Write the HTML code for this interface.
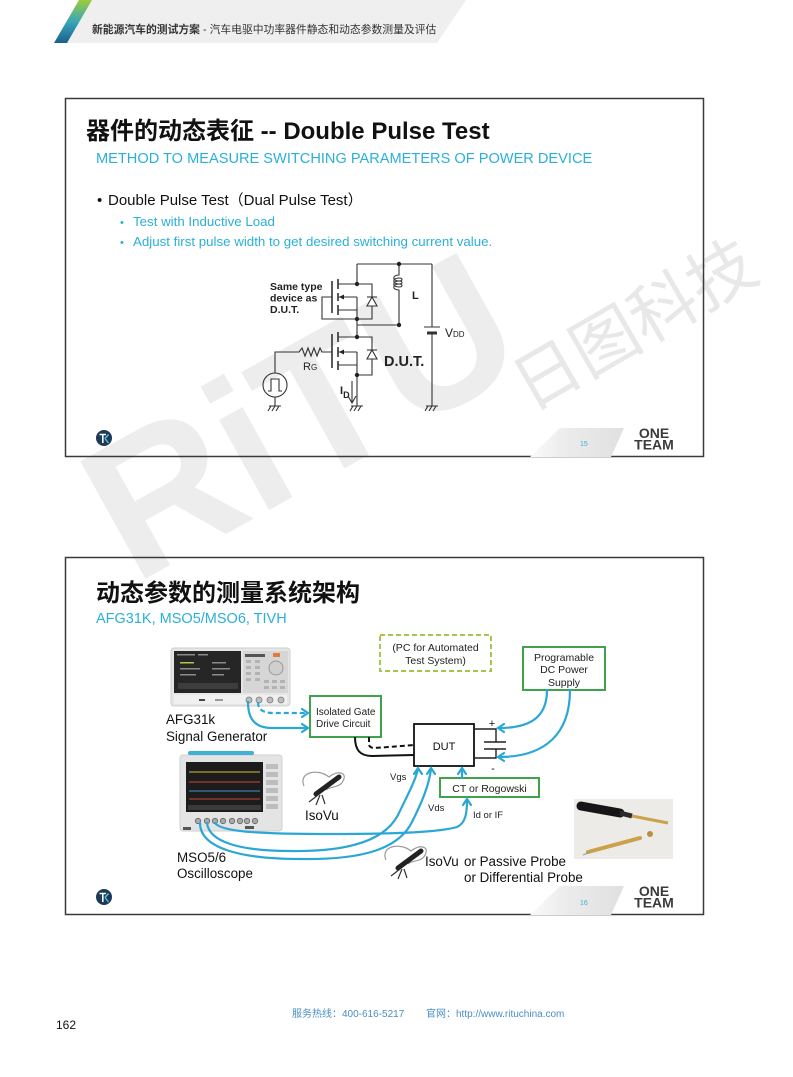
<!DOCTYPE html>
<html><head><meta charset="utf-8">
<style>
html,body{margin:0;padding:0;background:#fff;}
svg{display:block;}
text{font-family:"Liberation Sans","Noto Sans CJK SC",sans-serif;}
</style></head><body>
<svg width="793" height="1077" viewBox="0 0 793 1077" xmlns="http://www.w3.org/2000/svg">
<defs>
<linearGradient id="stripe" x1="0" y1="0" x2="0" y2="1">
<stop offset="0" stop-color="#9ccb3b"/><stop offset="0.5" stop-color="#3aa7b8"/><stop offset="1" stop-color="#1b5f8f"/>
</linearGradient>
<linearGradient id="foot" x1="0" y1="0" x2="1" y2="0">
<stop offset="0" stop-color="#fafafa"/><stop offset="0.4" stop-color="#ebebeb"/><stop offset="1" stop-color="#e0e0e0"/>
</linearGradient>
</defs>

<!-- header -->
<polygon points="88,0 466,0 437,43 62,43" fill="#efefef"/>
<polygon points="79,0 92,0 67,43 54,43" fill="url(#stripe)"/>
<text x="92" y="33" font-size="10.8" fill="#333"><tspan font-weight="bold">新能源汽车的测试方案</tspan> - 汽车电驱中功率器件静态和动态参数测量及评估</text>

<!-- slide backgrounds -->
<rect x="65.5" y="98.5" width="638" height="358" fill="#fff"/>
<rect x="65.5" y="557.5" width="638" height="357" fill="#fff"/>

<!-- watermark -->
<text transform="translate(134,585) rotate(-29)" font-size="195" font-weight="bold" fill="#ededed">RiTU</text>
<text transform="translate(530,412) rotate(-30)" font-size="67" fill="#e8e8e8">日图科技</text>

<!-- slide borders -->
<rect x="65.5" y="98.5" width="638" height="358" fill="none" stroke="#3a3a3a" stroke-width="1.5"/>
<rect x="65.5" y="557.5" width="638" height="357" fill="none" stroke="#3a3a3a" stroke-width="1.5"/>

<!-- ===== SLIDE 1 ===== -->
<text x="86" y="139" font-size="24" font-weight="bold" fill="#111">器件的动态表征 -- Double Pulse Test</text>
<text x="96" y="163" font-size="14.6" fill="#2ab0d8">METHOD TO MEASURE SWITCHING PARAMETERS OF POWER DEVICE</text>
<text x="97" y="205" font-size="15" fill="#111">•</text>
<text x="108" y="205" font-size="15" fill="#111">Double Pulse Test（Dual Pulse Test）</text>
<text x="120" y="226" font-size="11" fill="#2ab0d8">•</text>
<text x="133" y="226" font-size="13.3" fill="#2ab0d8">Test with Inductive Load</text>
<text x="120" y="246" font-size="11" fill="#2ab0d8">•</text>
<text x="133" y="246" font-size="13.3" fill="#2ab0d8">Adjust first pulse width to get desired switching current value.</text>

<!-- circuit -->
<g stroke="#333" stroke-width="1.1" fill="none">
  <path d="M357 264 H432 M357 264 V284"/>
  <path d="M338 284 H357 M357 297 V319 M338 297 H357 M338 310 H357"/>
  <path d="M338 279 V289 M338 293 V301 M338 305 V315" stroke-width="1.6"/>
  <path d="M332 281 V313" stroke-width="1.6"/>
  <path d="M332 297 H322 V319 H357"/>
  <path d="M357 284 H372 V319 H357"/>
  <polygon points="372,297 367,306 377,306" fill="#fff"/>
  <path d="M367 297 H377"/>
  <path d="M399 264 V275 c-7 0 -7 6 0 6 c4 0 4 -3 0 -3 c-7 0 -7 6 0 6 c4 0 4 -3 0 -3 c-7 0 -7 6 0 6 c4 0 4 -3 0 -3 c-7 0 -7 6 0 6 V325 H357"/>
  <path d="M357 319 V337"/>
  <path d="M338 337 H357 M338 352 H357 M338 365 H357 M357 352 V406"/>
  <path d="M338 332 V342 M338 347 V357 M338 361 V370" stroke-width="1.6"/>
  <path d="M332 334 V368" stroke-width="1.6"/>
  <path d="M357 337 H372 V375 H357"/>
  <polygon points="372,350 367,359 377,359" fill="#fff"/>
  <path d="M367 350 H377"/>
  <path d="M332 352 H322 l-2 -4 l-3 8 l-3 -8 l-3 8 l-3 -8 l-3 8 l-3 -8 l-3 4 H275 V373"/>
  <circle cx="275" cy="385" r="12"/>
  <path d="M268 391 H271 V379 H279 V391 H282"/>
  <path d="M275 397 V406"/>
  <path d="M432 264 V327 M424 327 H440"/>
  <path d="M427 333 H437" stroke-width="3"/>
  <path d="M432 333 V406"/>
  <path d="M269 406 H281 M271 406 L268 411 M275 406 L272 411 M279 406 L276 411"/>
  <path d="M351 406 H363 M353 406 L350 411 M357 406 L354 411 M361 406 L358 411"/>
  <path d="M426 406 H438 M428 406 L425 411 M432 406 L429 411 M436 406 L433 411"/>
  <path d="M352 381 V402 M348 396 L352 403 L356 396"/>
</g>
<g fill="#222">
  <circle cx="399" cy="264" r="2.2"/><circle cx="357" cy="284" r="2.2"/>
  <circle cx="357" cy="319" r="2.2"/><circle cx="399" cy="325" r="2.2"/>
  <circle cx="357" cy="337" r="2.2"/><circle cx="357" cy="375" r="2.2"/>
  <polygon points="339,297 344,294.5 344,299.5"/>
  <polygon points="339,352 344,349.5 344,354.5"/>
</g>
<g fill="#222" font-weight="bold">
  <text x="270" y="290" font-size="10.5">Same type</text>
  <text x="270" y="301.5" font-size="10.5">device as</text>
  <text x="270" y="313" font-size="10.5">D.U.T.</text>
  <text x="412" y="299" font-size="11">L</text>
  <text x="384" y="366" font-size="14.5">D.U.T.</text>
  <text x="340" y="394" font-size="11">I<tspan font-size="9" dy="4">D</tspan></text>
</g>
<text x="445" y="337" font-size="12" fill="#222">V<tspan font-size="8">DD</tspan></text>
<text x="303" y="370" font-size="11" fill="#222">R<tspan font-size="8">G</tspan></text>

<!-- slide 1 footer -->
<polygon points="530,457 560,428 624,428 611,457" fill="url(#foot)"/>
<text x="580" y="446" font-size="7" fill="#3ab0d8">15</text>
<text x="654" y="438" font-size="14" font-weight="bold" fill="#3b3b3b" text-anchor="middle">ONE</text>
<text x="654" y="449.5" font-size="14" font-weight="bold" fill="#3b3b3b" text-anchor="middle">TEAM</text>
<circle cx="104" cy="438" r="8" fill="#1e3a55"/>
<path d="M99.5 434.5 H106 M102.8 434.5 V443" stroke="#fff" stroke-width="1.6" fill="none"/>
<path d="M105 438.5 L108.5 434.5 M105 438.5 L108.5 443" stroke="#4fc3e8" stroke-width="1.4" fill="none"/>

<!-- ===== SLIDE 2 ===== -->
<text x="96" y="601" font-size="24" font-weight="bold" fill="#111">动态参数的测量系统架构</text>
<text x="96" y="623" font-size="14.5" fill="#2ab0d8">AFG31K, MSO5/MSO6, TIVH</text>

<!-- AFG device -->
<rect x="171" y="648" width="119" height="58" rx="3" fill="#e6e6e6" stroke="#cfcfcf"/>
<rect x="174" y="651" width="67" height="42" fill="#262626"/>
<g fill="#8a8a8a">
  <rect x="177" y="654" width="18" height="1.5"/><rect x="198" y="654" width="10" height="1.5"/>
  <rect x="180" y="662" width="14" height="1.5" fill="#a9c94a"/><rect x="212" y="662" width="14" height="1.5"/>
  <rect x="180" y="668" width="20" height="1.5"/><rect x="212" y="668" width="18" height="1.5"/>
  <rect x="180" y="674" width="16" height="1.5"/><rect x="212" y="674" width="12" height="1.5"/>
  <rect x="178" y="683" width="60" height="6" fill="#3d3d3d"/>
</g>
<rect x="243" y="651" width="45" height="42" fill="#d6d6d6"/>
<g fill="#b3b3b3">
  <rect x="245" y="654" width="20" height="3" fill="#555"/>
  <rect x="246" y="660" width="5" height="3"/><rect x="246" y="666" width="5" height="3"/><rect x="246" y="672" width="5" height="3"/><rect x="246" y="678" width="5" height="3"/>
  <rect x="255" y="660" width="5" height="3"/><rect x="255" y="666" width="5" height="3"/><rect x="255" y="672" width="5" height="3"/><rect x="255" y="678" width="5" height="3"/>
  <rect x="264" y="680" width="5" height="3"/><rect x="272" y="680" width="5" height="3"/><rect x="280" y="680" width="5" height="3"/>
  <rect x="264" y="686" width="5" height="3"/><rect x="272" y="686" width="5" height="3"/><rect x="280" y="686" width="5" height="3"/>
</g>
<rect x="273" y="653" width="7" height="4" fill="#e07b39"/>
<circle cx="276" cy="668" r="7" fill="#cfcfcf" stroke="#999"/>
<rect x="174" y="695" width="113" height="9" fill="#f0f0f0"/>
<rect x="199" y="699" width="6" height="2" fill="#444"/>
<rect x="215" y="699" width="8" height="2" fill="#999"/>
<g fill="#bdbdbd" stroke="#7a7a7a" stroke-width="0.8">
  <circle cx="249" cy="700" r="3"/><circle cx="259" cy="700" r="3"/><circle cx="270" cy="700" r="3"/><circle cx="281" cy="700" r="3"/>
</g>
<text x="166" y="724" font-size="13.4" fill="#111">AFG31k</text>
<text x="166" y="741" font-size="13.4" fill="#111">Signal Generator</text>

<!-- Scope -->
<rect x="180" y="755" width="102" height="76" rx="3" fill="#e4e4e4" stroke="#cfcfcf"/>
<rect x="188" y="751" width="66" height="4" rx="2" fill="#3fb0d6"/>
<rect x="186" y="762" width="77" height="50" fill="#1c1c1c"/>
<g fill="none" stroke-width="1">
  <path d="M189 772 H260" stroke="#d8b440"/>
  <path d="M189 782 H260" stroke="#c8483a"/>
  <path d="M189 791 H260" stroke="#4a8fd0"/>
  <path d="M189 799 H260" stroke="#c8483a"/>
</g>
<rect x="188" y="805" width="73" height="5" fill="#3a3a3a"/>
<g fill="#bdbdbd">
  <rect x="266" y="764" width="12" height="5"/><rect x="266" y="772" width="12" height="5"/>
  <rect x="266" y="780" width="12" height="5"/><rect x="266" y="788" width="12" height="5"/>
  <rect x="266" y="796" width="12" height="5"/><rect x="266" y="804" width="12" height="5"/>
</g>
<g fill="#a9a9a9" stroke="#666" stroke-width="0.8">
  <circle cx="198" cy="821" r="2.7"/><circle cx="207" cy="821" r="2.7"/><circle cx="215" cy="821" r="2.7"/><circle cx="223" cy="821" r="2.7"/>
  <circle cx="232" cy="821" r="2.7"/><circle cx="240" cy="821" r="2.7"/><circle cx="247" cy="821" r="2.7"/><circle cx="255" cy="821" r="2.7"/>
</g>
<rect x="183" y="827" width="8" height="3" fill="#555"/>
<rect x="245" y="826" width="9" height="3" fill="#555"/>
<text x="177" y="862" font-size="13.4" fill="#111">MSO5/6</text>
<text x="177" y="878" font-size="13.4" fill="#111">Oscilloscope</text>

<!-- boxes -->
<rect x="380" y="635" width="111" height="36" fill="none" stroke="#a5c64a" stroke-width="2" stroke-dasharray="5,3"/>
<text x="435.5" y="651" font-size="10.5" fill="#222" text-anchor="middle">(PC for Automated</text>
<text x="435.5" y="664" font-size="10.5" fill="#222" text-anchor="middle">Test System)</text>

<rect x="523" y="647" width="82" height="43" fill="#fff" stroke="#3fa34d" stroke-width="2"/>
<text x="564" y="661" font-size="10.5" fill="#222" text-anchor="middle">Programable</text>
<text x="564" y="673" font-size="10.5" fill="#222" text-anchor="middle">DC Power</text>
<text x="564" y="686" font-size="10.5" fill="#222" text-anchor="middle">Supply</text>

<rect x="310" y="696" width="71" height="41" fill="#fff" stroke="#3fa34d" stroke-width="2"/>
<text x="316" y="715" font-size="10" fill="#222">Isolated Gate</text>
<text x="316" y="727" font-size="10" fill="#222">Drive Circuit</text>

<rect x="414" y="724" width="60" height="42" fill="#fff" stroke="#111" stroke-width="1.8"/>
<text x="444" y="750" font-size="11" fill="#111" text-anchor="middle">DUT</text>

<rect x="440" y="778" width="99" height="19" fill="#fff" stroke="#3fa34d" stroke-width="2"/>
<text x="489.5" y="792" font-size="10.5" fill="#222" text-anchor="middle">CT or Rogowski</text>

<!-- capacitor -->
<path d="M474 729 H496 V742 M484 742 H506 M484 749 H506 M496 749 V758 H474" stroke="#222" stroke-width="1.4" fill="none"/>
<text x="492" y="727" font-size="11" fill="#111" text-anchor="middle">+</text>
<text x="493" y="772" font-size="11" fill="#111" text-anchor="middle">-</text>

<!-- black gate wires -->
<path d="M355 737 C355 750 360 756 372 756 L414 755" stroke="#111" stroke-width="2" fill="none"/>
<path d="M369 737 V744 Q369 748 375 748 L414 745" stroke="#111" stroke-width="2" fill="none" stroke-dasharray="5,3"/>

<!-- cyan connections -->
<g stroke="#2aa7d5" stroke-width="2.2" fill="none" stroke-linecap="round">
  <path d="M248 702 C248 718 254 728 272 728 L307 728"/>
  <path d="M258 702 C258 709 262 713 274 713 L307 713" stroke-dasharray="5,3" stroke-linecap="butt"/>
  <path d="M302 709 L308 713 L302 717"/>
  <path d="M302 724 L308 728 L302 732"/>
  <path d="M547 690 C547 716 532 728 499 728"/>
  <path d="M570 690 C570 734 545 757 499 757"/>
  <path d="M504 724 L498 728 L504 732"/>
  <path d="M504 753 L498 757 L504 761"/>
  <path d="M462 778 V768"/>
  <path d="M458 774 L462 768 L466 774"/>
  <path d="M200 823 C200 848 240 859 300 859 C360 860 398 850 412 822 C421 804 429 786 431 769"/>
  <path d="M207 823 C209 842 240 851 290 851 C350 852 385 840 398 815 C406 798 415 782 418 769"/>
  <path d="M215 823 C221 831 250 834 330 834 C400 834 440 832 457 827 C466 823 467 812 467 800"/>
  <path d="M414 774 L418 768 L422 774"/>
  <path d="M427 774 L431 768 L435 774"/>
  <path d="M463 805 L467 799 L471 805"/>
</g>
<text x="390" y="780" font-size="9.5" fill="#222">Vgs</text>
<text x="428" y="811" font-size="9.5" fill="#222">Vds</text>
<text x="473" y="818" font-size="9.5" fill="#222">Id or IF</text>

<!-- IsoVu icons -->
<g>
  <path d="M304 786 C298 772 318 768 329 777 C337 770 348 772 343 781 C340 788 330 786 326 790" stroke="#9a9a9a" stroke-width="1.2" fill="none"/>
  <path d="M316 794 L339 777" stroke="#222" stroke-width="5" stroke-linecap="round"/>
  <path d="M320 795 L316 805 M322 795 L325 804 M318 795 L309 802" stroke="#333" stroke-width="1.2" fill="none"/>
</g>
<g transform="translate(82,74)">
  <path d="M304 786 C298 772 318 768 329 777 C337 770 348 772 343 781 C340 788 330 786 326 790" stroke="#9a9a9a" stroke-width="1.2" fill="none"/>
  <path d="M316 794 L339 777" stroke="#222" stroke-width="5" stroke-linecap="round"/>
  <path d="M320 795 L316 805 M322 795 L325 804 M318 795 L309 802" stroke="#333" stroke-width="1.2" fill="none"/>
</g>
<text x="305" y="820" font-size="13.4" fill="#111">IsoVu</text>
<text x="425" y="866" font-size="13.4" fill="#111">IsoVu<tspan x="464">or Passive Probe</tspan></text>
<text x="464" y="882" font-size="13.4" fill="#111">or Differential Probe</text>

<!-- probe photo -->
<rect x="574" y="799" width="99" height="60" fill="#ecebe8"/>
<path d="M581 806 L620 813" stroke="#161616" stroke-width="9" stroke-linecap="round"/>
<path d="M620 813 L632 816" stroke="#2a2a2a" stroke-width="5"/>
<path d="M632 816 L668 823" stroke="#c9a24a" stroke-width="3"/>
<path d="M588 852 L640 838" stroke="#c9a24a" stroke-width="4" stroke-linecap="round"/>
<path d="M583 855 L590 852" stroke="#999" stroke-width="1"/>
<circle cx="650" cy="834" r="3" fill="#b89040"/>

<!-- slide 2 footer -->
<polygon points="530,915 560,886 624,886 611,915" fill="url(#foot)"/>
<text x="580" y="905" font-size="7" fill="#3ab0d8">16</text>
<text x="654" y="896" font-size="14" font-weight="bold" fill="#3b3b3b" text-anchor="middle">ONE</text>
<text x="654" y="907.5" font-size="14" font-weight="bold" fill="#3b3b3b" text-anchor="middle">TEAM</text>
<circle cx="104" cy="897" r="8" fill="#1e3a55"/>
<path d="M99.5 893.5 H106 M102.8 893.5 V902" stroke="#fff" stroke-width="1.6" fill="none"/>
<path d="M105 897.5 L108.5 893.5 M105 897.5 L108.5 902" stroke="#4fc3e8" stroke-width="1.4" fill="none"/>

<!-- page footer -->
<text x="292" y="1017" font-size="10" fill="#4a8ec2">服务热线：400-616-5217</text>
<text x="426" y="1017" font-size="10" fill="#4a8ec2">官网：http://www.rituchina.com</text>
<text x="56" y="1029" font-size="12" fill="#111">162</text>
</svg>
</body></html>
